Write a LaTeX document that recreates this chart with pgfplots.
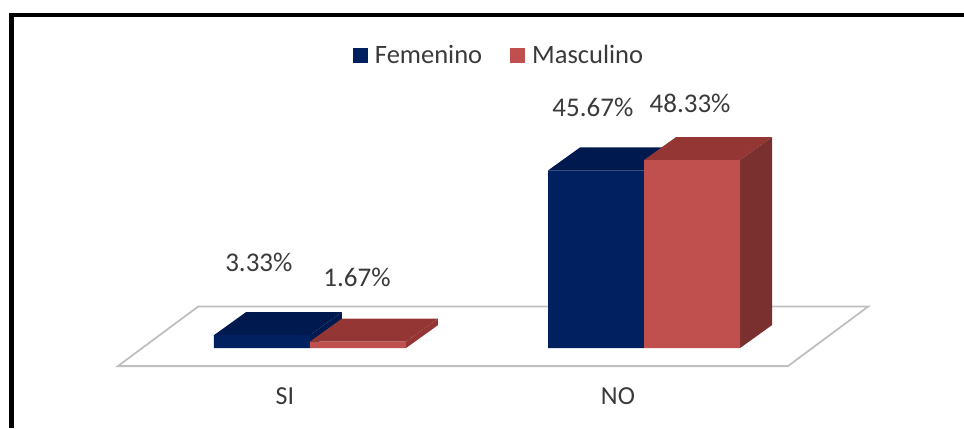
\documentclass[border=0pt]{standalone}
\usepackage{fontspec}
\setmainfont{Carlito}
\usepackage{pgfplots}
\pgfplotsset{compat=1.18}

\definecolor{navyfront}{HTML}{002060}
\definecolor{navytop}{HTML}{001A50}
\definecolor{redfront}{HTML}{C0504D}
\definecolor{redtop}{HTML}{943634}
\definecolor{redside}{HTML}{7A302F}
\definecolor{floorline}{HTML}{BFBFBF}
\definecolor{txt}{HTML}{3A3A3A}

\begin{document}
\begin{tikzpicture}
\begin{axis}[
    scale only axis,
    width=964pt,
    height=428pt,
    xmin=-0.928, xmax=1.958,
    ymin=-20.57, ymax=89.46,
    axis line style={draw=none},
    major tick length=0pt,
    ytick=\empty,
    xtick={-0.075,0.922},
    xticklabels={SI,NO},
    xticklabel style={anchor=center, yshift=32pt, font=\fontsize{26}{26}\selectfont, text=txt},
    legend style={at={(axis cs:0.566,75.3)}, anchor=center, draw=none, fill=none,
        font=\fontsize{26.5}{26.5}\selectfont, text=txt, inner sep=0pt,
        /tikz/every odd column/.append style={column sep=5pt},
        /tikz/every even column/.append style={column sep=26pt}},
    legend columns=2,
    legend image code/.code={\fill[#1] (0pt,-7.5pt) rectangle (15pt,7.5pt);},
]
% frame, left and top only
\addplot[black, line width=5pt, forget plot] coordinates {(-0.894,-20.57) (-0.894,85.8)};
\addplot[black, line width=4pt, forget plot] coordinates {(-0.9,85.6) (1.958,85.6)};

% floor
\addplot[fill=white, draw=floorline, line width=1.8pt, forget plot] coordinates {
    (-0.575,-4.63) (-0.335,10.67) (1.671,10.67) (1.431,-4.63)} --cycle;

% top and side faces
\addplot[fill=navytop, draw=none, forget plot] coordinates {
    (-0.2874,3.33) (-0.1916,9.24) (0.0958,9.24) (0,3.33)} --cycle;
\addplot[fill=navytop, draw=none, forget plot] coordinates {
    (0,0) (0.0958,5.91) (0.0958,9.24) (0,3.33)} --cycle;
\addplot[fill=navytop, draw=none, forget plot] coordinates {
    (0.7126,45.67) (0.8084,51.58) (1.0958,51.58) (1,45.67)} --cycle;
\addplot[fill=redtop, draw=none, forget plot] coordinates {
    (0,1.67) (0.0958,7.58) (0.3832,7.58) (0.2874,1.67)} --cycle;
\addplot[fill=redtop, draw=none, forget plot] coordinates {
    (0.2874,0) (0.3832,5.91) (0.3832,7.58) (0.2874,1.67)} --cycle;
\addplot[fill=redtop, draw=none, forget plot] coordinates {
    (1,48.33) (1.0958,54.24) (1.3832,54.24) (1.2874,48.33)} --cycle;
\addplot[fill=redside, draw=none, forget plot] coordinates {
    (1.2874,0) (1.3832,5.91) (1.3832,54.24) (1.2874,48.33)} --cycle;

% front faces
\addplot[ybar, bar width=0.2874, bar shift=-0.1437, fill=navyfront, draw=none] coordinates {(0,3.33) (1,45.67)};
\addlegendentry{Femenino}
\addplot[ybar, bar width=0.2874, bar shift=0.1437, fill=redfront, draw=none] coordinates {(0,1.67) (1,48.33)};
\addlegendentry{Masculino}

% data labels
\tikzset{vlab/.style={text=txt, font=\fontsize{27}{27}\selectfont}}
\node[vlab] at (axis cs:-0.153,22.1) {3.33\%};
\node[vlab] at (axis cs:0.141,18.2) {1.67\%};
\node[vlab] at (axis cs:0.847,62) {45.67\%};
\node[vlab] at (axis cs:1.138,63) {48.33\%};
\end{axis}
\end{tikzpicture}
\end{document}
